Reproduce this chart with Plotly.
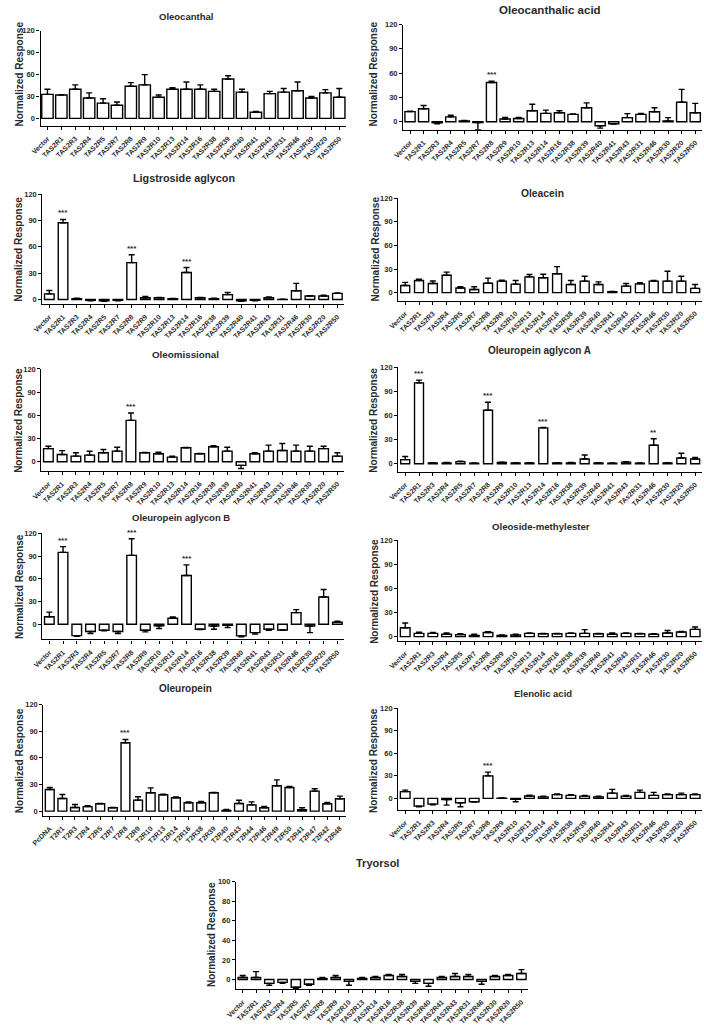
import plotly.graph_objects as go

W, H = 704, 1030

# ---------------- categories ----------------
receptors = ["Vector", "TAS2R1", "TAS2R3", "TAS2R4", "TAS2R5", "TAS2R7", "TAS2R8", "TAS2R9",
             "TAS2R10", "TAS2R13", "TAS2R14", "TAS2R16", "TAS2R38", "TAS2R39", "TAS2R40",
             "TAS2R41", "TAS2R43", "TAS2R31", "TAS2R46", "TAS2R30", "TAS2R20", "TAS2R50"]
receptors_alt = ["Vector", "TAS2R1", "TAS2R3", "TAS2R4", "TAS2R5", "TAS2R7", "TAS2R8", "TAS2R9",
                 "TAS2R10", "TAS2R13", "TAS2R14", "TAS2R16", "TAS2R38", "TAS2R39", "TAS2R40",
                 "TAS2R41", "TAS2R43", "TAs2R31", "TAS2R46", "TAS2R30", "TAS2R20", "TAS2R50"]
oleuropein_receptors = ["PcDNA", "T2R1", "T2R3", "T2R4", "T2R5", "T2R7", "T2R8", "T2R9", "T2R10",
                        "T2R13", "T2R14", "T2R16", "T2R38", "T2R39", "T2R40", "T2R43", "T2R44",
                        "T2R46", "T2R49", "T2R50", "T2R41", "T2R47", "T2R42", "T2R48"]

# ---------------- values (mean, SEM) ----------------
oleocanthal_mean = [33, 32, 40, 28, 21, 18, 44, 46, 29, 40, 40, 40, 37, 54, 36, 8.5, 34, 36, 38, 28, 35, 29]
oleocanthal_sem = [7, 0.5, 6, 7, 6, 4.5, 5, 14, 3, 2, 10, 6, 3, 4.5, 4, 1, 3, 5, 12, 2, 4.5, 12]
oleocanthal_stars = {}

oleocanthalic_mean = [12.5, 16, -1.5, 6, 1, -1, 48.5, 3.3, 4, 13.5, 10.3, 11, 9, 17.3, -5, -2.5, 5, 9, 12.3, 1, 24, 11]
oleocanthalic_sem = [0.5, 4, 1, 2, 0.5, 9, 1.5, 2, 1.3, 8, 4, 2.6, 0.5, 6, 3, 0.5, 5, 1.3, 5, 4, 16, 11.6]
oleocanthalic_stars = {"TAS2R8": "***"}

ligstroside_mean = [6.4, 87.4, 1, -1, -1.5, -1, 42, 2, 2, 1, 30.7, 2, 1, 5.6, -1.5, -1, 2, 0.2, 10, 4, 4, 7]
ligstroside_sem = [3.8, 3.7, 0.5, 0.5, 0.5, 0.5, 9, 1.5, 0.5, 0.3, 5.7, 0.5, 0.5, 2.4, 0.5, 0.5, 1, 0.2, 8.4, 0.5, 0.8, 0.5]
ligstroside_stars = {"TAS2R1": "***", "TAS2R8": "***", "TAS2R14": "***"}

oleacein_mean = [9, 15.4, 11.7, 22, 6, 4, 12, 14.6, 10.8, 20, 19, 24, 10.4, 14.6, 10.4, 1.2, 8.3, 11.2, 14.6, 14.6, 14.6, 5.4]
oleacein_sem = [4, 1.6, 3, 4, 1.5, 3.5, 6.5, 1.2, 4.6, 3, 4.3, 9, 5, 6.2, 3.3, 0.3, 3.4, 1.3, 0.8, 12.5, 6.2, 5]
oleacein_stars = {}

oleomissional_mean = [17, 9.4, 7.3, 8.6, 11.6, 13.7, 53.5, 11.6, 10.3, 6, 18, 10.3, 19.3, 13.7, -4.7, 10.3, 13.7, 14.6, 13.7, 13.7, 17, 7.3]
oleomissional_sem = [3, 5, 4.3, 5, 4.3, 5, 9.5, 0.5, 2, 1.3, 0.5, 0.5, 1.3, 5, 4, 1.3, 7.8, 9, 7.8, 6.4, 3, 4.3]
oleomissional_stars = {"TAS2R8": "***"}

aglyconA_mean = [5, 100.5, 1, 1, 2.5, 0.5, 66.5, 1.5, 1, 1, 44.5, 1, 1, 5.8, 1, 0.5, 2, 0.5, 23, 1, 7, 5.8]
aglyconA_sem = [4, 3.4, 0.3, 0.5, 0.5, 0.5, 10, 0.5, 0.3, 0.3, 0.5, 0.3, 0.5, 5, 0.3, 0.3, 0.5, 0.3, 8, 0.3, 6, 2]
aglyconA_stars = {"TAS2R1": "***", "TAS2R8": "***", "TAS2R14": "***", "TAS2R46": "**"}

aglyconB_mean = [10, 95, -15, -9.6, -8, -9.6, 91, -8, -2, 8, 64.4, -6.6, -2.2, -1.3, -15.4, -11, -6.6, -7.5, 15.4, -2.2, 36, 2.6]
aglyconB_sem = [6, 7.5, 1, 2.7, 0.5, 2.7, 22, 2, 3.5, 1.6, 14, 0.5, 4.4, 3, 1.3, 2, 1.3, 0.5, 4, 8.8, 10, 1.3]
aglyconB_stars = {"TAS2R1": "***", "TAS2R8": "***", "TAS2R14": "***"}

oleoside_mean = [11, 4, 4, 3, 2.5, 1.5, 5, 1.5, 2, 4, 3.5, 3.5, 4, 4, 3.5, 3, 4, 3.5, 3, 4.5, 5.8, 9]
oleoside_sem = [6, 1.4, 1, 1.5, 1, 1.5, 1, 0.5, 1, 0.5, 0.5, 0.5, 0.5, 4.7, 0.5, 1.5, 0.5, 0.5, 0.5, 3, 0.5, 3]
oleoside_stars = {}

oleuropein_mean = [24.4, 14.2, 4, 5, 8.2, 3.7, 77, 12.4, 20.6, 18.4, 15, 9.4, 9.4, 20.6, 0.7, 8.6, 7, 3.7, 28.5, 26.6, 1.5, 22.5, 8.2, 13.9]
oleuropein_sem = [2.2, 4.5, 3.4, 1, 0.5, 0.5, 3.7, 3.7, 5.6, 0.5, 1, 1, 1.5, 0.3, 1.2, 3.7, 3.4, 1.5, 6.7, 1.1, 2.2, 2.6, 1.5, 3]
oleuropein_stars = {"T2R8": "***"}

elenolic_mean = [9, -10.3, -7.6, -1.5, -5.8, -4.5, 30, 0.3, -1.3, 3.1, 2, 5, 4, 3, 2, 7, 3, 8, 4, 5, 5, 5]
elenolic_sem = [2, 1, 1, 7.5, 5.4, 0.5, 5, 0.3, 3.2, 1, 1, 1, 1, 1, 1, 5, 1, 3, 4, 1, 2, 1]
elenolic_stars = {"TAS2R8": "***"}

tyrosol_mean = [2, 2, -4, -3, -8, -5, 1, 2, -2, 1, 2, 4, 3, -2, -4, 2, 3, 3, -2, 3, 4, 6]
tyrosol_sem = [2, 6, 2, 1, 1, 1, 1, 2, 4, 1, 1, 1, 2, 2, 3, 1, 3, 2, 3, 1, 1, 4]
tyrosol_stars = {}

# ---------------- panel layout (pixel positions / styles) ----------------
panels = [
    dict(title="Oleocanthal", cats=receptors, mean=oleocanthal_mean, sem=oleocanthal_sem, stars=oleocanthal_stars,
         x0=29, x1=340, ytop=27, ybot=122.3, ymin=-10, ymax=120, dtick=30, gap=0.18, tx=177, ty=13, ts=9.5, lx=8, ly=70),
    dict(title="Oleocanthalic acid", cats=receptors, mean=oleocanthalic_mean, sem=oleocanthalic_sem, stars=oleocanthalic_stars,
         x0=398, x1=702, ytop=20.7, ybot=126.4, ymin=-10, ymax=120, dtick=30, gap=0.25, tx=547, ty=6, ts=11.5, lx=368, ly=70),
    dict(title="Ligstroside aglycon", cats=receptors_alt, mean=ligstroside_mean, sem=ligstroside_sem, stars=ligstroside_stars,
         x0=31, x1=338, ytop=191, ybot=301.4, ymin=-5, ymax=120, dtick=30, gap=0.3, tx=175, ty=175, ts=10.8, lx=7, ly=246),
    dict(title="Oleacein", cats=receptors, mean=oleacein_mean, sem=oleacein_sem, stars=oleacein_stars,
         x0=393, x1=702, ytop=195, ybot=298, ymin=-10, ymax=120, dtick=30, gap=0.35, tx=540, ty=190, ts=10.3, lx=370, ly=246),
    dict(title="Oleomissional", cats=receptors, mean=oleomissional_mean, sem=oleomissional_sem, stars=oleomissional_stars,
         x0=30, x1=338, ytop=366.7, ybot=469.3, ymin=-12, ymax=120, dtick=30, gap=0.3, tx=177, ty=352, ts=9.8, lx=7, ly=418),
    dict(title="Oleuropein aglycon A", cats=receptors_alt, mean=aglyconA_mean, sem=aglyconA_sem, stars=aglyconA_stars,
         x0=393, x1=702, ytop=365, ybot=470, ymin=-10, ymax=120, dtick=30, gap=0.35, tx=537, ty=348, ts=10, lx=368, ly=418),
    dict(title="Oleuropein aglycon B", cats=receptors, mean=aglyconB_mean, sem=aglyconB_sem, stars=aglyconB_stars,
         x0=31, x1=338, ytop=532, ybot=638.5, ymin=-20, ymax=120, dtick=30, gap=0.3, tx=172, ty=516, ts=9.5, lx=7, ly=585),
    dict(title="Oleoside-methylester", cats=receptors_alt, mean=oleoside_mean, sem=oleoside_sem, stars=oleoside_stars,
         x0=393, x1=702, ytop=539, ybot=639.7, ymin=-5, ymax=120, dtick=30, gap=0.3, tx=538, ty=525, ts=9.6, lx=368, ly=590),
    dict(title="Oleuropein", cats=oleuropein_receptors, mean=oleuropein_mean, sem=oleuropein_sem, stars=oleuropein_stars,
         x0=32, x1=340, ytop=704, ybot=815.5, ymin=-5, ymax=120, dtick=30, gap=0.3, tx=177, ty=688, ts=10, lx=7, ly=760),
    dict(title="Elenolic acid", cats=receptors, mean=elenolic_mean, sem=elenolic_sem, stars=elenolic_stars,
         x0=393, x1=702, ytop=707.7, ybot=809.6, ymin=-15, ymax=120, dtick=30, gap=0.3, tx=540, ty=693, ts=9.5, lx=368, ly=760),
    dict(title="Tryorsol", cats=receptors, mean=tyrosol_mean, sem=tyrosol_sem, stars=tyrosol_stars,
         x0=228, x1=525, ytop=882, ybot=990, ymin=-10, ymax=100, dtick=20, gap=0.3, tx=372, ty=863, ts=11, lx=203, ly=935),
]

FONT = "Liberation Sans"
TXT = "#2a2a2a"

fig = go.Figure()
annotations = []
layout = {}

for i, p in enumerate(panels, start=1):
    xa = "x" if i == 1 else f"x{i}"
    ya = "y" if i == 1 else f"y{i}"
    mean, sem = p["mean"], p["sem"]
    up = [e if v >= 0 else 0 for v, e in zip(mean, sem)]
    down = [e if v < 0 else 0 for v, e in zip(mean, sem)]
    fig.add_trace(go.Bar(
        x=p["cats"], y=mean, xaxis=xa, yaxis=ya, width=1 - p["gap"],
        marker=dict(color="white", line=dict(color="black", width=1.4)),
        error_y=dict(type="data", symmetric=False, array=up, arrayminus=down,
                     color="black", thickness=1.4, width=3),
        showlegend=False, hoverinfo="x+y",
    ))
    n = len(p["cats"])
    layout["xaxis" if i == 1 else f"xaxis{i}"] = dict(
        domain=[p["x0"] / W, p["x1"] / W], anchor=ya, type="category",
        range=[-0.5, n - 0.5], tickangle=-45, ticks="outside", ticklen=3, tickwidth=1.2,
        tickcolor="black", showline=True, linecolor="black", linewidth=1.4,
        showgrid=False, zeroline=False, ticklabeloverflow="allow", ticklabelstandoff=2,
        tickfont=dict(family=FONT, size=7, color=TXT, weight="bold"),
        categoryorder="array", categoryarray=p["cats"],
    )
    layout["yaxis" if i == 1 else f"yaxis{i}"] = dict(
        domain=[1 - p["ybot"] / H, 1 - p["ytop"] / H], anchor=xa,
        range=[p["ymin"], p["ymax"]],
        tickvals=list(range(0, p["ymax"] + 1, p["dtick"])),
        ticks="outside", ticklen=3, tickwidth=1.2, tickcolor="black",
        showline=True, linecolor="black", linewidth=1.4,
        showgrid=False, zeroline=False,
        tickfont=dict(family=FONT, size=7.5, color=TXT, weight="bold"),
    )
    annotations.append(dict(
        text=f"<b>{p['title']}</b>", xref="paper", yref="paper",
        x=p["tx"] / W, y=1 - p["ty"] / H, xanchor="center", yanchor="middle",
        showarrow=False, font=dict(family=FONT, size=p["ts"], color=TXT)))
    annotations.append(dict(
        text="<b>Normalized Response</b>", xref="paper", yref="paper",
        x=p["lx"] / W, y=1 - p["ly"] / H, xanchor="center", yanchor="middle",
        textangle=-90, showarrow=False, font=dict(family=FONT, size=10, color=TXT)))
    for cat, s in p["stars"].items():
        k = p["cats"].index(cat)
        v, e = mean[k], sem[k]
        annotations.append(dict(
            text=f"<b>{s}</b>", xref=xa, yref=ya, x=cat, y=(v + e) if v >= 0 else 0,
            yanchor="bottom", xanchor="center", showarrow=False,
            font=dict(family=FONT, size=8, color=TXT)))

fig.update_layout(
    width=W, height=H, autosize=False,
    margin=dict(l=0, r=0, t=0, b=0),
    paper_bgcolor="white", plot_bgcolor="white",
    annotations=annotations, **layout,
)

fig.write_html(
    "out.html",
    config={"displayModeBar": False},
    post_script="document.body.style.margin='0';document.body.style.padding='0';document.body.style.overflow='hidden';",
)
